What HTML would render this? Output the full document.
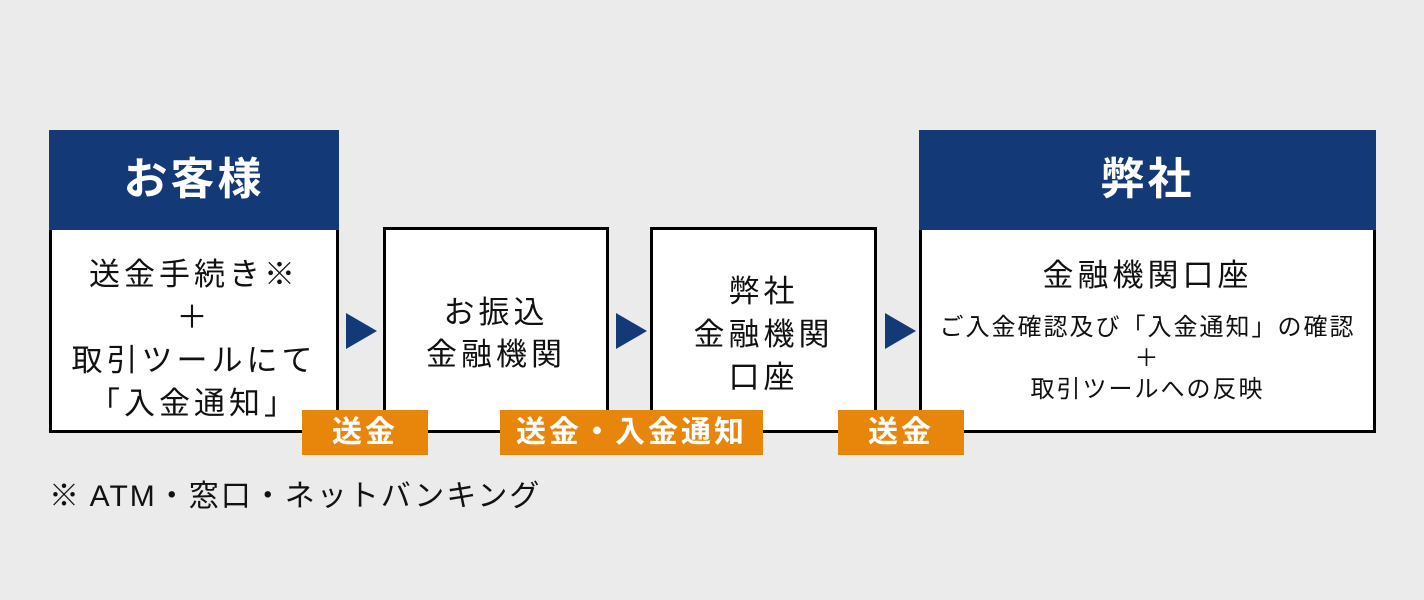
<!DOCTYPE html>
<html><head><meta charset="utf-8"><style>
body{margin:0;width:1424px;height:600px;background:#ebebeb;position:relative;overflow:hidden;font-family:"Liberation Sans","Noto Sans CJK JP",sans-serif;color:#111}
.a{position:absolute;box-sizing:border-box}
.box{background:#fff;border:3px solid #000;text-align:center}
.hd{background:#133a77;color:#fff;font-weight:bold;font-size:44px;letter-spacing:3px;text-align:center;line-height:100px}
.or{background:#e8860c;color:#fff;font-weight:bold;font-size:30px;letter-spacing:3px;text-align:center;line-height:45px}
.tri{width:0;height:0;border-top:18px solid transparent;border-bottom:18px solid transparent;border-left:31px solid #133a77}
</style></head><body>
<div class="a box" style="left:49px;top:227px;width:290px;height:206px;font-size:31px;letter-spacing:4px;line-height:43px;padding-top:23px">送金手続き※<br>＋<br>取引ツールにて<br>「入金通知」</div>
<div class="a hd" style="left:49px;top:130px;width:290px;height:100px">お客様</div>
<div class="a box" style="left:383px;top:227px;width:226px;height:206px;font-size:31px;letter-spacing:4px;line-height:42px;padding-top:62px">お振込<br>金融機関</div>
<div class="a box" style="left:650px;top:227px;width:227px;height:206px;font-size:31px;letter-spacing:4px;line-height:43px;padding-top:40px">弊社<br>金融機関<br>口座</div>
<div class="a box" style="left:919px;top:227px;width:457px;height:206px;padding-top:26px"><div style="font-size:31px;letter-spacing:4px;line-height:40px">金融機関口座</div><div style="font-size:24px;letter-spacing:2px;line-height:31px;margin-top:16px">ご入金確認及び「入金通知」の確認<br>＋<br>取引ツールへの反映</div></div>
<div class="a hd" style="left:919px;top:130px;width:457px;height:100px">弊社</div>
<div class="a tri" style="left:346px;top:313px"></div>
<div class="a tri" style="left:616px;top:313px"></div>
<div class="a tri" style="left:885px;top:313px"></div>
<div class="a or" style="left:302px;top:410px;width:126px;height:45px">送金</div>
<div class="a or" style="left:500px;top:410px;width:263px;height:45px">送金・入金通知</div>
<div class="a or" style="left:838px;top:410px;width:126px;height:45px">送金</div>
<div class="a" style="left:49px;top:477px;font-size:30px;letter-spacing:2px;line-height:40px">※ ATM・窓口・ネットバンキング</div>
</body></html>
